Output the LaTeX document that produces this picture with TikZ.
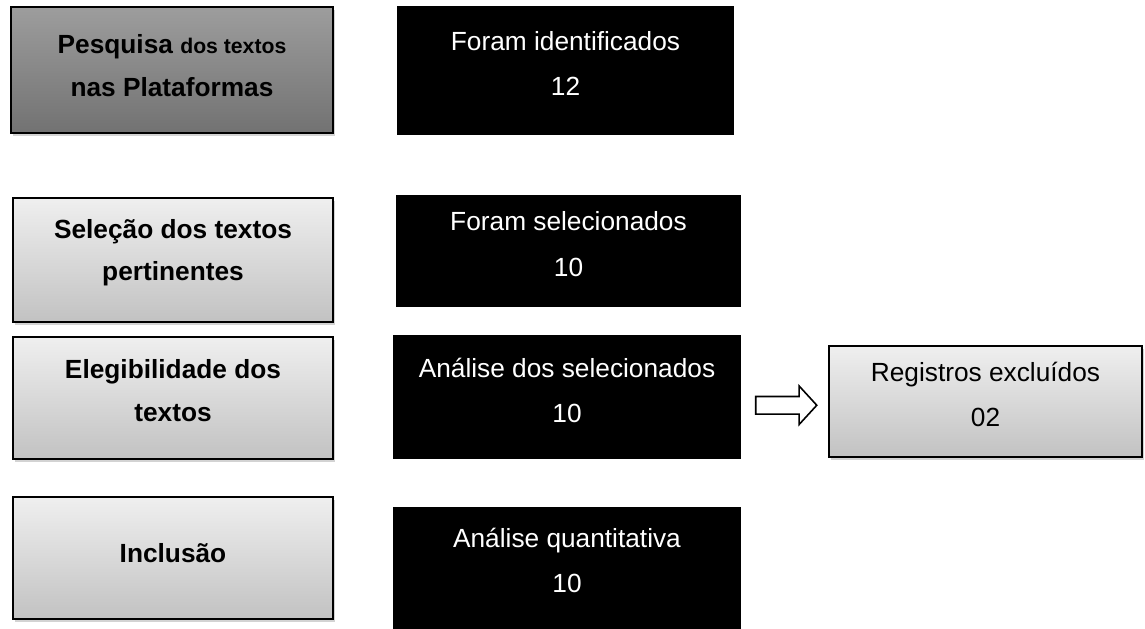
\documentclass[tikz,border=0pt]{standalone}
\usepackage{fontspec}
\setmainfont{Liberation Sans}
\usepackage{xcolor}
\usetikzlibrary{shadows,shapes.arrows,calc}

\definecolor{claroTopo}{HTML}{EFEFEF}
\definecolor{claroBase}{HTML}{C2C2C2}
\definecolor{escuroTopo}{HTML}{9D9D9D}
\definecolor{escuroBase}{HTML}{727272}

\tikzset{
  etapa/.style={draw,line width=1.5pt,top color=claroTopo,bottom color=claroBase,
    drop shadow={shadow xshift=1.5pt,shadow yshift=-2.5pt,opacity=0.35},
    align=center,inner sep=0pt,minimum width=240pt,minimum height=92pt,
    text depth=11pt,font=\bfseries\fontsize{19.7}{32}\selectfont},
  resultado/.style={fill=black,text=white,align=center,inner sep=0pt,
    text depth=10.5pt,font=\fontsize{19.7}{34}\selectfont},
}

\begin{document}
\begin{tikzpicture}[x=0.75pt,y=-0.75pt]
    \useasboundingbox (0,0) rectangle (1145,628);
    % etapas
    \node[etapa,top color=escuroTopo,bottom color=escuroBase,drop shadow={opacity=0},
      minimum width=241.5pt,minimum height=94.5pt,text depth=7pt] (pesquisa) at (172,70)
      {Pesquisa \fontsize{15.9}{32}\selectfont dos textos\\nas Plataformas};
    \node[etapa,minimum height=93pt,text depth=15pt] (selecao) at (173,260) {Seleção dos textos\\pertinentes};
    \node[etapa,minimum height=91.5pt] (elegib) at (173,398) {Elegibilidade dos\\textos};
    \node[etapa,minimum height=91.5pt,text depth=7.5pt] (inclusao) at (173,558) {Inclusão};
    % resultados
    \node[resultado,minimum width=252.75pt,minimum height=96.75pt] (identif) at (565.5,70.5)
      {Foram identificados\\12};
    \node[resultado,minimum width=258.75pt,minimum height=84pt] (selec) at (568.5,251)
      {Foram selecionados\\10};
    \node[resultado,minimum width=261pt,minimum height=93pt] (analise) at (567,397)
      {Análise dos selecionados\\10};
    \node[resultado,minimum width=261pt,minimum height=91.5pt] (quanti) at (567,567.5)
      {Análise quantitativa\\10};
    % excluidos
    \node[etapa,line width=1.2pt,minimum width=234.75pt,minimum height=83.25pt,
      text depth=10.5pt,font=\fontsize{19.7}{34}\selectfont] (excluidos) at (985.5,401.5)
      {Registros excluídos\\02};
    \node[single arrow,draw,line width=1.2pt,inner sep=0pt,inner ysep=6pt,
      minimum height=45.75pt,single arrow head extend=7.9pt,
      single arrow tip angle=95] (seta)
      at ($(analise.east)!0.5!(excluidos.west)+(-2.5,6)$) {};
\end{tikzpicture}
\end{document}
